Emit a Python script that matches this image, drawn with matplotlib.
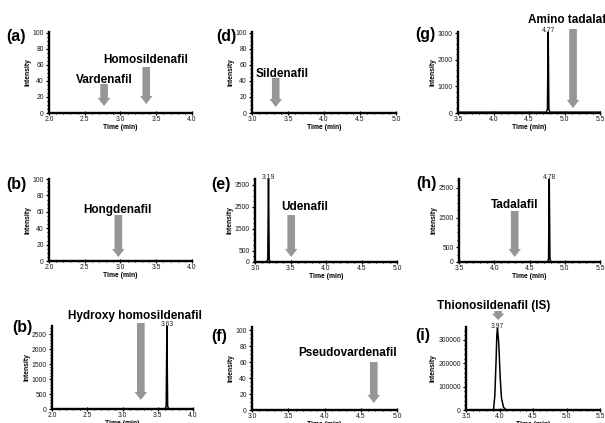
import matplotlib
matplotlib.use("Agg")
import matplotlib.pyplot as plt
from matplotlib.ticker import MultipleLocator, FixedLocator, FormatStrFormatter

plt.rcParams["font.family"] = ["Liberation Sans", "DejaVu Sans"]

# Chromatogram traces: retention time (min) and intensity (counts)
a_time = [2.0, 4.0]
a_int = [0, 0]
d_time = [3.0, 5.0]
d_int = [0, 0]
g_time = [3.5, 4.745, 4.76, 4.77, 4.78, 4.795, 5.5]
g_int = [30, 30, 150, 3040, 150, 30, 30]
b2_time = [2.0, 4.0]
b2_int = [0, 0]
e_time = [3.0, 3.165, 3.18, 3.19, 3.20, 3.215, 5.0]
e_int = [0, 0, 120, 3770, 120, 0, 0]
h_time = [3.5, 4.755, 4.77, 4.78, 4.79, 4.805, 5.5]
h_int = [0, 0, 100, 2800, 100, 0, 0]
b3_time = [2.0, 3.605, 3.62, 3.63, 3.64, 3.655, 4.0]
b3_int = [0, 0, 100, 2770, 100, 0, 0]
f_time = [3.0, 5.0]
f_int = [0, 0]
i_time = [3.5, 3.91, 3.93, 3.95, 3.96, 3.97, 3.99, 4.01, 4.03, 4.06, 4.10, 5.5]
i_int = [0, 0, 60000, 220000, 320000, 350000, 280000, 140000, 50000, 12000, 0, 0]

# Target compounds and their expected retention times (min)
a_targets = ["Vardenafil", "Homosildenafil"]
a_rt = [2.77, 3.36]
d_targets = ["Sildenafil"]
d_rt = [3.33]
g_targets = ["Amino tadalafil"]
g_rt = [5.12]
b2_targets = ["Hongdenafil"]
b2_rt = [2.97]
e_targets = ["Udenafil"]
e_rt = [3.51]
h_targets = ["Tadalafil"]
h_rt = [4.29]
b3_targets = ["Hydroxy homosildenafil"]
b3_rt = [3.26]
f_targets = ["Pseudovardenafil"]
f_rt = [4.68]
i_targets = ["Thionosildenafil (IS)"]
i_rt = [3.98]

# Which panels show a labelled apex
a_peak = False
d_peak = False
g_peak = True
b2_peak = False
e_peak = True
h_peak = True
b3_peak = True
f_peak = False
i_peak = True

W, H = 605, 423
ARROW_GRAY = "#969696"

fig = plt.figure(figsize=(W / 100, H / 100), dpi=100)


def fy(py):
    return 1 - py / H


def fx(px):
    return px / W


def make_axes(rect_px):
    x0, y0, x1, y1 = rect_px
    return fig.add_axes([fx(x0), fy(y1), (x1 - x0) / W, (y1 - y0) / H])


def style(ax, xlim, ylim, yticks, yminor):
    ax.set_xlim(xlim)
    ax.set_ylim(ylim)
    ax.xaxis.set_major_locator(MultipleLocator(0.5))
    ax.xaxis.set_minor_locator(MultipleLocator(0.1))
    ax.xaxis.set_major_formatter(FormatStrFormatter("%.1f"))
    ax.yaxis.set_major_locator(FixedLocator(yticks))
    ax.yaxis.set_minor_locator(MultipleLocator(yminor))
    ax.yaxis.set_major_formatter(FormatStrFormatter("%d"))
    for s in ("top", "right"):
        ax.spines[s].set_visible(False)
    for s in ("left", "bottom"):
        ax.spines[s].set_linewidth(1.7)
    ax.tick_params(which="major", length=2.5, width=0.9,
                   labelsize=4.9, pad=1.2, labelcolor="#1a1a1a")
    ax.tick_params(which="minor", length=1.7, width=0.8)
    ax.tick_params(axis="x", which="both", direction="inout")
    ax.tick_params(axis="y", which="both", direction="out")
    ax.set_xlabel("Time (min)", fontsize=4.9, fontweight="bold", labelpad=0.5)
    ax.set_ylabel("Intensity", fontsize=4.9, fontweight="bold", labelpad=1)
    ax.patch.set_visible(False)


def draw_panel(rect_px, time, inten, xlim, ylim, yticks, yminor, show_apex,
               label, label_px, targets, rts, arrows_px, texts_px):
    ax = make_axes(rect_px)
    ax.plot(time, inten, color="black", lw=1.1, clip_on=False, zorder=3)
    style(ax, xlim, ylim, yticks, yminor)

    if show_apex:
        k = inten.index(max(inten))
        ax.annotate(f"{time[k]:.2f}", xy=(time[k], inten[k]), xytext=(0, -1.5),
                    textcoords="offset points", ha="center", va="bottom",
                    fontsize=4.9, color="#222222", annotation_clip=False)

    for name, rt, (tail, tip, head), (tx, ty, ha) in zip(targets, rts, arrows_px, texts_px):
        ax.annotate("", xy=(rt, fy(tip)), xytext=(rt, fy(tail)),
                    xycoords=("data", "figure fraction"),
                    textcoords=("data", "figure fraction"),
                    arrowprops=dict(arrowstyle=f"simple,head_length={head},head_width=0.9,tail_width=0.55",
                                    mutation_scale=10, color=ARROW_GRAY, lw=0,
                                    shrinkA=0, shrinkB=0),
                    annotation_clip=False)
        fig.text(fx(tx), fy(ty), name, ha=ha, va="baseline",
                 fontsize=8.5, fontweight="bold")

    fig.text(fx(label_px[0]), fy(label_px[1]), label, ha="left", va="center",
             fontsize=11.5, fontweight="bold")
    return ax


# Row 1
draw_panel((49, 32, 192, 113), a_time, a_int, (2.0, 4.0), (0, 101),
           [0, 20, 40, 60, 80, 100], 5, a_peak, "(a)", (6, 36),
           a_targets, a_rt, [(84, 106, 0.58), (67, 104, 0.58)],
           [(104.5, 83, "center"), (145.5, 63, "center")])
draw_panel((252, 32, 396, 113), d_time, d_int, (3.0, 5.0), (0, 101),
           [0, 20, 40, 60, 80, 100], 5, d_peak, "(d)", (216, 37),
           d_targets, d_rt, [(78, 107, 0.58)], [(282.5, 77, "center")])
draw_panel((458, 32, 600, 113), g_time, g_int, (3.5, 5.5), (0, 3040),
           [0, 1000, 2000, 3000], 200, g_peak, "(g)", (415, 34),
           g_targets, g_rt, [(29, 108, 0.58)], [(528, 23, "left")])

# Row 2
draw_panel((49, 179, 192, 261), b2_time, b2_int, (2.0, 4.0), (0, 100),
           [0, 20, 40, 60, 80, 100], 5, b2_peak, "(b)", (6, 184),
           b2_targets, b2_rt, [(215, 257, 0.58)], [(117.5, 213, "center")])
draw_panel((255, 179, 397, 262), e_time, e_int, (3.0, 5.0), (0, 3770),
           [0, 500, 1500, 2500, 3500], 250, e_peak, "(e)", (211, 184),
           e_targets, e_rt, [(215, 257, 0.58)], [(305, 210, "center")])
draw_panel((459, 179, 600, 262), h_time, h_int, (3.5, 5.5), (0, 2800),
           [0, 500, 1500, 2500], 250, h_peak, "(h)", (416, 183),
           h_targets, h_rt, [(211, 257, 0.58)], [(515, 208, "center")])

# Row 3
draw_panel((52, 326, 193, 409), b3_time, b3_int, (2.0, 4.0), (0, 2770),
           [0, 500, 1000, 1500, 2000, 2500], 100, b3_peak, "(b)", (12, 327),
           b3_targets, b3_rt, [(323, 400, 0.58)], [(134.5, 319, "center")])
draw_panel((252, 327, 397, 410), f_time, f_int, (3.0, 5.0), (0, 104),
           [0, 20, 40, 60, 80, 100], 5, f_peak, "(f)", (211, 336),
           f_targets, f_rt, [(362, 403, 0.58)], [(347.5, 356, "center")])
draw_panel((466, 327, 600, 410), i_time, i_int, (3.5, 5.5), (0, 355000),
           [0, 100000, 200000, 300000], 20000, i_peak, "(i)", (415, 335),
           i_targets, i_rt, [(311, 320, 0.45)], [(494, 309, "center")])

fig.savefig("out.png", dpi=100)
